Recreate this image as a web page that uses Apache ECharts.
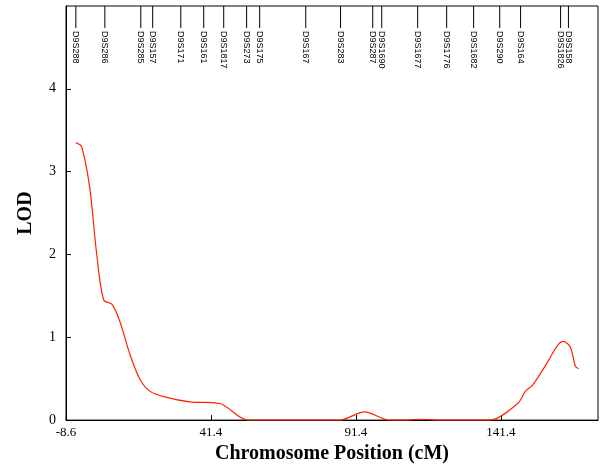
<!DOCTYPE html>
<html><head><meta charset="utf-8">
<script src="https://cdn.jsdelivr.net/npm/echarts@6/dist/echarts.min.js"></script>
<style>html,body{margin:0;background:#fff}#c{width:603px;height:469px}</style>
</head><body><div id="c"></div>
<script>
const markerNames = ['D9S288','D9S286','D9S285','D9S157','D9S171','D9S161','D9S1817','D9S273','D9S175','D9S167','D9S283','D9S287','D9S1690','D9S1677','D9S1776','D9S1682','D9S290','D9S164','D9S1826','D9S158'];
const markerPos = [-5.2, 4.8, 17.2, 21.3, 31.0, 38.9, 45.8, 53.7, 58.2, 74.1, 86.1, 97.2, 100.3, 112.7, 122.7, 132.0, 141.0, 148.2, 162.0, 164.7];
const lodPos = [-5.2, -3.2, -0.4, 2.0, 4.4, 7.2, 9.9, 13.4, 16.8, 20.3, 25.4, 34.1, 44.4, 54.1, 85.8, 94.4, 103.0, 109.0, 113.4, 120.0, 137.6, 147.2, 149.9, 152.3, 157.5, 160.9, 163.0, 165.4, 167.1, 168.2];
const lodVal = [3.35, 3.3, 2.8, 2.0, 1.45, 1.4, 1.2, 0.8, 0.5, 0.35, 0.28, 0.22, 0.2, 0.0, 0.0, 0.1, 0.0, 0.0, 0.01, 0.0, 0.0, 0.2, 0.35, 0.42, 0.7, 0.9, 0.95, 0.88, 0.65, 0.62];

const chart = echarts.init(document.getElementById('c'));
chart.setOption({
  animation: false,
  grid: {left: 66, right: 5, top: 6, bottom: 48, show: true, borderColor: '#000', borderWidth: 1},
  xAxis: {
    type: 'value', min: -8.6, max: 174.9, interval: 50,
    name: 'Chromosome Position (cM)', nameLocation: 'middle', nameGap: 22,
    nameTextStyle: {fontFamily: 'Liberation Serif', fontWeight: 'bold', fontSize: 20, color: '#000'},
    axisLine: {onZero: false, lineStyle: {color: '#000'}},
    axisTick: {inside: true, length: 5, lineStyle: {color: '#000'}},
    axisLabel: {showMaxLabel: false, fontFamily: 'Liberation Serif', fontSize: 13, color: '#000', margin: 6},
    splitLine: {show: false}
  },
  yAxis: {
    type: 'value', min: 0, max: 5, interval: 1,
    name: 'LOD', nameLocation: 'middle', nameGap: 30,
    nameTextStyle: {fontFamily: 'Liberation Serif', fontWeight: 'bold', fontSize: 20, color: '#000'},
    axisLine: {onZero: false, lineStyle: {color: '#000'}},
    axisTick: {inside: true, length: 5, lineStyle: {color: '#000'}},
    axisLabel: {showMaxLabel: false, fontFamily: 'Liberation Serif', fontSize: 14, color: '#000', margin: 10},
    splitLine: {show: false}
  },
  series: [
    {
      type: 'line', data: lodPos.map((x, i) => [x, lodVal[i]]),
      smooth: 0.3, showSymbol: false, lineStyle: {color: '#ff2200', width: 1.2}
    },
    {
      type: 'custom', data: markerPos.map((x, i) => [x, i]),
      renderItem: (params, api) => {
        const p = api.coord([api.value(0), 5]);
        const name = markerNames[api.value(1)];
        return {type: 'group', children: [
          {type: 'line', shape: {x1: p[0], y1: p[1], x2: p[0], y2: p[1] + 22}, style: {stroke: '#000', lineWidth: 1}},
          {type: 'text', x: p[0], y: p[1] + 25, rotation: -Math.PI / 2,
           style: {text: name, fontFamily: 'Liberation Sans', fontSize: 9, fill: '#000', align: 'left', verticalAlign: 'middle'}}
        ]};
      }
    }
  ]
});
</script></body></html>
